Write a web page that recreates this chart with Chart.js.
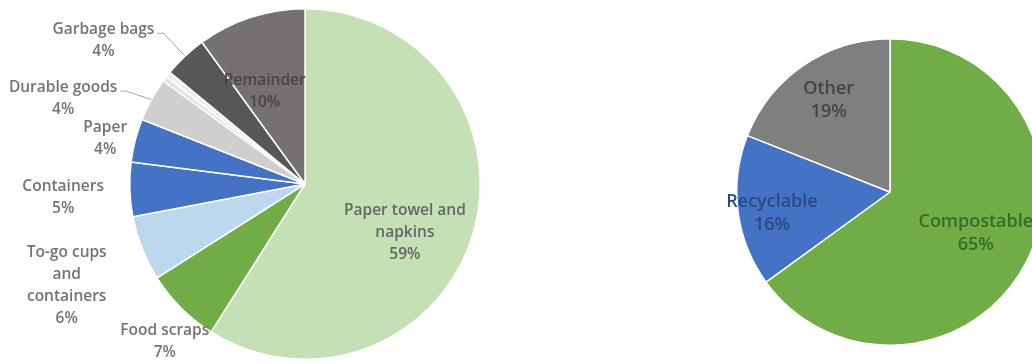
<!DOCTYPE html>
<html>
<head>
<meta charset="utf-8">
<script src="https://cdn.jsdelivr.net/npm/chart.js@4.4.1/dist/chart.umd.min.js"></script>
<style>
  html, body { margin: 0; padding: 0; background: #fff; overflow: hidden; width: 1032px; height: 364px; }
  canvas { position: absolute; top: 0; }
  #pieWaste { left: 0; }
  #pieStream { left: 520px; }
</style>
</head>
<body>
<canvas id="pieWaste" width="520" height="364"></canvas>
<canvas id="pieStream" width="540" height="364"></canvas>
<script>
// left pie : composition of the waste
const wasteLabels = ['Paper towel and napkins', 'Food scraps', 'To-go cups and containers', 'Containers', 'Paper', 'Durable goods', 'Small item A', 'Small item B', 'Garbage bags', 'Remainder'];
const wasteValues = [59, 7, 6, 5, 4, 4, 0.5, 0.5, 4, 10];
const wasteLines = [['Paper towel and', 'napkins'], ['Food scraps'], ['To-go cups', 'and', 'containers'], ['Containers'], ['Paper'], ['Durable goods'], [], [], ['Garbage bags'], ['Remainder']];

// right pie : where it could go
const streamLabels = ['Compostable', 'Recyclable', 'Other'];
const streamValues = [65, 16, 19];
const streamLines = [['Compostable'], ['Recyclable'], ['Other']];

// colours
const wasteColors = ['#c5e0b4', '#70ad47', '#bdd7ee', '#4472c4', '#4472c4', '#d0cece', '#dfe6ef', '#eeeeee', '#575757', '#767171'];
const streamColors = ['#70ad47', '#4472c4', '#7f7f7f'];

// label placement, in units of the radius from the pie centre
const wasteOffsets = [[0.57, 0.28], [-0.80, 0.90], [-1.36, 0.58], [-1.38, 0.08], [-1.14, -0.26], [-1.38, -0.49], null, null, [-1.15, -0.82], [-0.23, -0.53]];
const wasteTextColors = ['#666666', '#737373', '#737373', '#737373', '#737373', '#737373', null, null, '#737373', '#4a4545'];
const wasteLeaders = [false, false, false, false, false, true, false, false, true, false];

const streamOffsets = [[0.56, 0.27], [-0.77, 0.14], [-0.40, -0.60]];
const streamTextColors = ['#3b6a24', '#2a4a80', '#454545'];

// plugin pour les étiquettes
const sliceLabels = {
    id: 'sliceLabels',
    afterDatasetsDraw(chart, args, opts) {
        const ctx = chart.ctx;
        const arcs = chart.getDatasetMeta(0).data;
        const values = chart.data.datasets[0].data;
        ctx.save();
        ctx.font = opts.font;
        ctx.textAlign = 'center';
        ctx.textBaseline = 'middle';
        arcs.forEach(function(arc, i){
            const off = opts.offsets[i];
            if (!off) return;
            const r = arc.outerRadius;
            const cx = arc.x + off[0] * r;
            const cy = arc.y + off[1] * r;
            const all = opts.lines[i].concat([Math.round(values[i]) + '%']);
            const top = cy - (all.length - 1) * opts.lineHeight / 2;
            ctx.fillStyle = opts.colors[i];
            all.forEach(function(t, k){
                ctx.fillText(t, cx, top + k * opts.lineHeight);
            });
            if (opts.leaders && opts.leaders[i]) {
                const mid = (arc.startAngle + arc.endAngle) / 2;
                const ex = arc.x + Math.cos(mid) * r;
                const ey = arc.y + Math.sin(mid) * r;
                const w = ctx.measureText(all[0]).width;
                const tx = cx + w / 2 + 3;
                const ty = top + 4;
                ctx.strokeStyle = '#a6a6a6';
                ctx.lineWidth = 1;
                ctx.beginPath();
                ctx.moveTo(tx, ty);
                ctx.lineTo(tx + 6, ty);
                ctx.lineTo(ex, ey);
                ctx.stroke();
            }
        });
        ctx.restore();
    }
};

function makePie(id, labels, values, colors, padding, labelOpts){
    const ctx = document.getElementById(id).getContext('2d');
    return new Chart(ctx, {
        type: 'pie',
        data: {
            labels: labels,
            datasets: [{
                data: values,
                backgroundColor: colors,
                borderColor: '#ffffff',
                borderWidth: 1.5
            }]
        },
        options: {
            responsive: false,
            animation: false,
            layout: { padding: padding },
            plugins: {
                legend: { display: false },
                tooltip: { enabled: false },
                sliceLabels: labelOpts
            }
        },
        plugins: [sliceLabels]
    });
}

const chartWaste = makePie('pieWaste', wasteLabels, wasteValues, wasteColors,
    { left: 129, right: 39, top: 8, bottom: 4 },
    {
        font: '600 15.5px "Open Sans"',
        lineHeight: 22,
        lines: wasteLines,
        offsets: wasteOffsets,
        colors: wasteTextColors,
        leaders: wasteLeaders
    });

const chartStream = makePie('pieStream', streamLabels, streamValues, streamColors,
    { left: 216, right: 16, top: 38, bottom: 18 },
    {
        font: '600 18px "Open Sans"',
        lineHeight: 23,
        lines: streamLines,
        offsets: streamOffsets,
        colors: streamTextColors,
        leaders: null
    });
</script>
</body>
</html>
